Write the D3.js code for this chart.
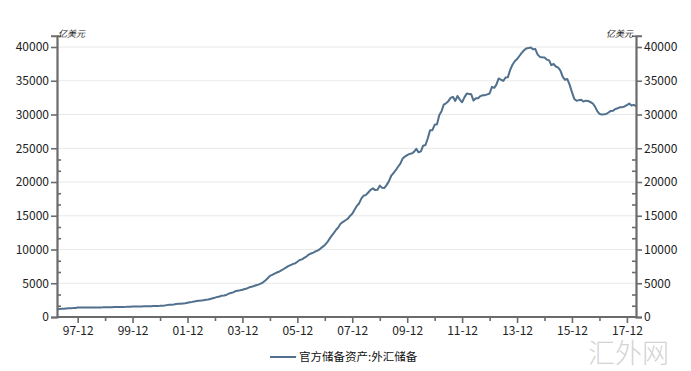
<!DOCTYPE html>
<html><head><meta charset="utf-8">
<script src="https://cdn.jsdelivr.net/npm/d3@7"></script>
<style>
html,body{margin:0;padding:0;background:#fff;}
svg{display:block;font-family:"Noto Sans CJK SC","Noto Sans",sans-serif;}
</style></head>
<body><svg id="c" width="691" height="371"></svg>
<script>
const startMonth = "1997-03";
const reserves = [
// 1997 Mar-Dec
1150,1180,1205,1215,1247,1283,1299,1320,1350,1399,
// 1998
1400,1405,1403,1405,1405,1405,1406,1407,1410,1420,1430,1450,
// 1999
1452,1455,1460,1465,1470,1470,1480,1490,1500,1520,1535,1547,
// 2000
1549,1556,1568,1568,1576,1583,1593,1610,1626,1636,1644,1656,
// 2001
1679,1708,1759,1800,1832,1860,1909,1958,1953,2006,2051,2122,
// 2002
2196,2237,2309,2368,2410,2427,2490,2546,2585,2676,2776,2864,
// 2003
2978,3042,3160,3200,3260,3465,3566,3646,3837,3900,3950,4033,
// 2004
4157,4229,4398,4470,4600,4706,4800,4950,5145,5420,5740,6099,
// 2005
6236,6426,6591,6703,6910,7110,7327,7533,7690,7843,7946,8189,
// 2006
8451,8536,8751,8950,9250,9411,9545,9720,9879,10096,10387,10663,
// 2007
11047,11575,12020,12460,12927,13326,13852,14086,14336,14544,14968,15282,
// 2008
15898,16471,16822,17566,17969,18088,18451,18841,19056,18797,18847,19460,
// 2009
19135,19121,19537,20089,20890,21316,21746,22257,22726,23466,23761,23992,
// 2010
24153,24245,24471,24905,24395,24543,25380,25480,26483,27680,27680,28473,
// 2011
28560,29914,30447,31467,31660,31975,32453,32625,32017,32738,32209,31811,
// 2012
32536,33096,33049,32985,32061,32400,32400,32730,32850,32870,32980,33116,
// 2013
34100,33950,34426,35345,35148,34967,35478,35530,36627,37366,37895,38213,
// 2014
38666,39137,39480,39788,39838,39932,39660,39688,38877,38529,38474,38430,
// 2015
38134,38015,37300,37481,37111,36938,36513,35574,35141,35255,34383,33304,
// 2016
32309,32023,32126,32197,31917,32052,32011,31852,31664,31206,30516,30105,
// 2017
29982,30051,30091,30295,30536,30568,30807,30915,31085,31092,31193,31399,
// 2018
31615,31345,31428,31249
];
const yMajorTicks = [0,5000,10000,15000,20000,25000,30000,35000,40000];
const xTickLabels = ["97-12","99-12","01-12","03-12","05-12","07-12","09-12","11-12","13-12","15-12","17-12"];
const unitLabel = "亿美元";
const seriesName = "官方储备资产:外汇储备";
const watermark = "汇外网";

const parse = d3.timeParse("%Y-%m");
const t0 = parse(startMonth);
const data = reserves.map((v,i)=>({date:d3.timeMonth.offset(t0,i), value:v}));

const L=57, R=636, T=35.75, B=317;
const yMax = 40000 + 5000/3;
const x = d3.scaleTime().domain([data[0].date, data[data.length-1].date]).range([L,R]);
const y = d3.scaleLinear().domain([0,yMax]).range([B,T]);

const svg = d3.select("#c");

// gridlines
svg.append("g").selectAll("line").data(yMajorTicks.filter(d=>d>0)).join("line")
  .attr("x1",L).attr("x2",R).attr("y1",d=>y(d)).attr("y2",d=>y(d))
  .attr("stroke","#e8e8e8").attr("stroke-width",1);

// line
svg.append("path").datum(data)
  .attr("fill","none").attr("stroke","#50708d").attr("stroke-width",2)
  .attr("stroke-linejoin","round")
  .attr("d", d3.line().x(d=>x(d.date)).y(d=>y(d.value)));

const minorY = d3.range(0,16).map(i=>i*5000/3).filter((d,i)=>i%3!==0 && d<=yMax+1);
minorY.push(yMax);

function styleAxis(g){
  g.selectAll(".domain").attr("stroke","#6b6b6b").attr("stroke-width",2.2);
  g.selectAll(".tick line").attr("stroke","#6b6b6b").attr("stroke-width",1.6);
  g.selectAll("text").attr("fill","#222").attr("font-size","12px")
   .attr("font-family","'Noto Sans CJK SC','Noto Sans',sans-serif");
}

// left axis
svg.append("g").attr("transform",`translate(${L},0)`)
  .call(d3.axisLeft(y).tickValues(yMajorTicks).tickSize(6).tickPadding(2).tickFormat(d3.format("d")))
  .call(styleAxis);
svg.append("g").attr("transform",`translate(${L},0)`)
  .call(d3.axisRight(y).tickValues(minorY).tickSize(4).tickFormat(""))
  .call(g=>g.select(".domain").remove()).call(styleAxis);

// right axis
svg.append("g").attr("transform",`translate(${R},0)`)
  .call(d3.axisRight(y).tickValues(yMajorTicks).tickSize(6).tickPadding(2).tickFormat(d3.format("d")))
  .call(styleAxis);
svg.append("g").attr("transform",`translate(${R},0)`)
  .call(d3.axisLeft(y).tickValues(minorY).tickSize(4).tickFormat(""))
  .call(g=>g.select(".domain").remove()).call(styleAxis);

// x axis
const majorDates = xTickLabels.map(s=>{const yy=+s.slice(0,2); return new Date((yy>50?1900:2000)+yy, 11, 1);});
const minorDates = majorDates.map(d=>new Date(d.getFullYear()+1,11,1)).filter(d=>d<=x.domain()[1]);
svg.append("g").attr("transform",`translate(0,${B})`)
  .call(d3.axisBottom(x).tickValues(majorDates).tickSize(6).tickPadding(3).tickFormat((d,i)=>xTickLabels[i]))
  .call(styleAxis)
  .call(g=>g.select(".domain").attr("d",`M${L},0H${R}`));
svg.append("g").attr("transform",`translate(0,${B})`)
  .call(d3.axisBottom(x).tickValues(minorDates).tickSize(4).tickFormat(""))
  .call(g=>g.select(".domain").remove()).call(styleAxis);

// unit labels
svg.append("text").attr("x",L+1).attr("y",T+1).attr("font-size","9px").attr("fill","#222")
  .attr("font-style","italic").text(unitLabel);
svg.append("text").attr("x",R-3).attr("y",T+1).attr("text-anchor","end").attr("font-size","9px").attr("fill","#222")
  .attr("font-style","italic").text(unitLabel);

// legend
svg.append("line").attr("x1",270).attr("x2",296).attr("y1",357).attr("y2",357)
  .attr("stroke","#50708d").attr("stroke-width",2);
svg.append("text").attr("x",299).attr("y",361).attr("font-size","11.5px").attr("fill","#111").text(seriesName);

// watermark
svg.append("text").attr("x",588).attr("y",363).attr("font-size","27px").attr("font-weight",300)
  .attr("fill","#c8c8c8").attr("fill-opacity",0.8).text(watermark);
</script>
</body></html>
